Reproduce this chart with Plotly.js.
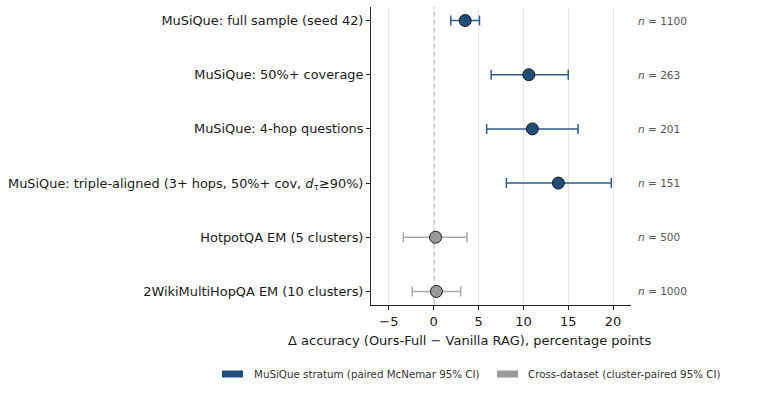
<!DOCTYPE html>
<html><head><meta charset="utf-8">
<script src="https://cdn.plot.ly/plotly-3.0.1.min.js"></script>
<style>html,body{margin:0;padding:0;background:#fff}#c{width:781px;height:418px}</style>
</head><body><div id="c"></div>
<script>
const categories = [
  "MuSiQue: full sample (seed 42)",
  "MuSiQue: 50%+ coverage",
  "MuSiQue: 4-hop questions",
  "MuSiQue: triple-aligned (3+ hops, 50%+ cov, <i>d</i><sub>τ</sub>≥90%)",
  "HotpotQA EM (5 clusters)",
  "2WikiMultiHopQA EM (10 clusters)"
];
const groups = ["musique","musique","musique","musique","cross","cross"];
const delta = [3.5, 10.6, 11.0, 13.9, 0.2, 0.3];
const ciLow = [1.9, 6.4, 5.9, 8.1, -3.4, -2.4];
const ciHigh = [5.1, 15.0, 16.1, 19.8, 3.7, 3.0];
const nLabels = ["1100", "263", "201", "151", "500", "1000"];
const legendNames = {musique: "MuSiQue stratum (paired McNemar 95% CI)", cross: "Cross-dataset (cluster-paired 95% CI)"};
const xTicks = [-5, 0, 5, 10, 15, 20];
const xTitle = "Δ accuracy (Ours-Full − Vanilla RAG), percentage points";
const refLine = 0;

const style = {
  musique: {fill: "#1f4e79", bar: "#2d5d8c"},
  cross: {fill: "#9a9a9a", bar: "#ababab"}
};

const traces = ["musique","cross"].map(g => {
  const idx = groups.map((v,i)=>v===g?i:-1).filter(i=>i>=0);
  return {
    type: "scatter", mode: "markers", showlegend: false,
    x: idx.map(i=>delta[i]),
    y: idx.map(i=>categories[i]),
    error_x: {type:"data", symmetric:false,
      array: idx.map(i=>ciHigh[i]-delta[i]),
      arrayminus: idx.map(i=>delta[i]-ciLow[i]),
      color: style[g].bar, thickness: 1.5, width: 5},
    marker: {size: 12, color: style[g].fill, line: {color: "#1a1a1a", width: 1}},
    hoverinfo: "skip"
  };
});

const pxX = p => (p - 371) / 260;
const pxY = p => (305 - p) / 298;

const annotations = categories.map((c,i)=>({
  xref: "paper", yref: "y", x: pxX(636), y: c, xanchor: "left", yanchor: "middle",
  text: "<i>n</i> = " + nLabels[i], showarrow: false,
  font: {family: "DejaVu Sans", size: 10.5, color: "#555555"}
}));
annotations.push({xref: "paper", yref: "paper", x: pxX(469.5), y: pxY(340.7),
  xanchor: "center", yanchor: "middle", showarrow: false, text: xTitle,
  font: {family: "DejaVu Sans", size: 13, color: "#1a1a1a"}});

// legend (manual patches)
const legendItems = [
  {g: "musique", x0: 222, tx: 252},
  {g: "cross", x0: 497, tx: 526}
];
const shapes = [{
  type: "line", xref: "x", yref: "paper", x0: refLine, x1: refLine, y0: 0, y1: 1,
  line: {color: "#8a8a8a", width: 1.4, dash: "5px,3px"}, layer: "below"
}];
legendItems.forEach(it => {
  shapes.push({type: "rect", xref: "paper", yref: "paper",
    x0: pxX(it.x0), x1: pxX(it.x0 + 21), y0: pxY(377.5), y1: pxY(370.5),
    line: {width: 0}, fillcolor: style[it.g].fill});
  annotations.push({xref: "paper", yref: "paper", x: pxX(it.tx), y: pxY(374),
    xanchor: "left", yanchor: "middle", showarrow: false, text: legendNames[it.g],
    font: {family: "DejaVu Sans", size: 10.3, color: "#333333"}});
});

const layout = {
  width: 781, height: 418,
  margin: {l: 371, r: 150, t: 7, b: 113},
  paper_bgcolor: "#fff", plot_bgcolor: "#fff",
  font: {family: "DejaVu Sans", color: "#1a1a1a"},
  showlegend: false,
  xaxis: {
    range: [-7, 22], tickvals: xTicks, ticks: "outside", ticklen: 4, tickwidth: 1,
    tickcolor: "#222", showline: true, linecolor: "#222", linewidth: 1,
    zeroline: false, showgrid: true, gridcolor: "#e8e8e8", gridwidth: 1,
    tickfont: {size: 13, color: "#1a1a1a"}
  },
  yaxis: {
    type: "category", categoryorder: "array", categoryarray: categories,
    range: [5.25, -0.25], ticks: "outside", ticklen: 4, tickwidth: 1, tickcolor: "#222",
    showline: true, linecolor: "#222", linewidth: 1, showgrid: false, zeroline: false,
    tickfont: {size: 12.9, color: "#1a1a1a"}, automargin: false
  },
  shapes: shapes,
  annotations: annotations
};

Plotly.newPlot("c", traces, layout, {displayModeBar: false, staticPlot: true});
</script></body></html>
